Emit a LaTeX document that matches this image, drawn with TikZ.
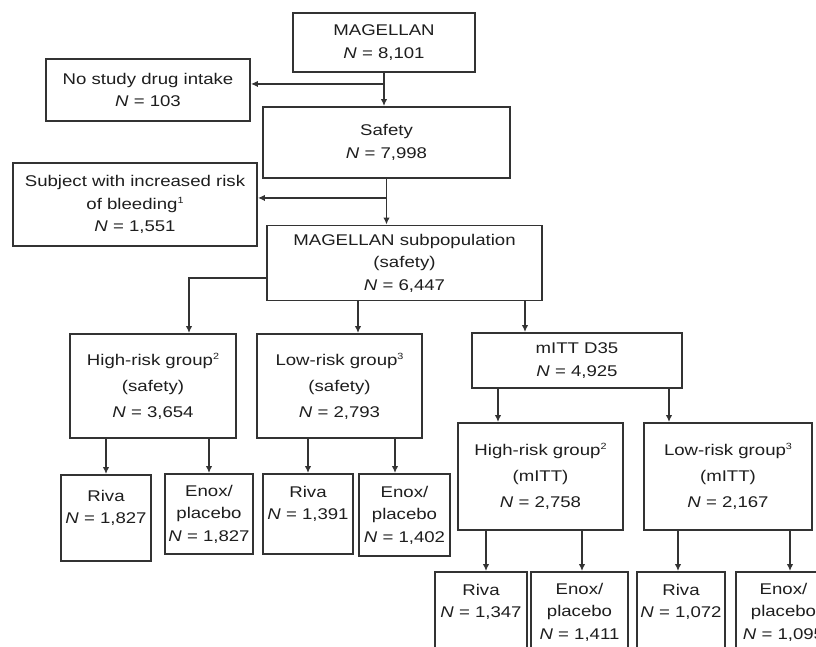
\documentclass[tikz,border=0pt]{standalone}
\usepackage{fontspec}
\setmainfont{Liberation Sans}[FakeStretch=1.2]
\usetikzlibrary{arrows.meta, calc}
\definecolor{edge}{HTML}{333333}
\definecolor{ink}{HTML}{1E1E1E}
\newcommand{\fnmark}[1]{\raisebox{6pt}{\fontsize{9}{9}\selectfont #1}}

\begin{document}
\begin{tikzpicture}[x=1pt, y=-1pt,
	box/.style={draw=edge, line width=1.9pt, fill=white, inner sep=0pt, align=center, text=ink, font=\fontsize{15.5}{22.5}\selectfont},
	grp/.style={box, font=\fontsize{15.5}{26}\selectfont},
	arr/.style={draw=edge, line width=1.7pt, -{Latex[length=7pt, width=6.5pt]}}]
		% \draw[help lines, step=50] (0,0) grid (816,647);
		\useasboundingbox (0,0) rectangle (816,647);
		\clip (0,0) rectangle (816,647);

		\node (mag) at (384,42.5) [box, minimum width=182pt, minimum height=59pt] {MAGELLAN\\ \textit{N} = 8,101};
		\node (nodrug) at (148,90) [box, minimum width=204pt, minimum height=62pt] {No study drug intake\\ \textit{N} = 103};
		\node (safety) at (386.5,142.5) [box, minimum width=247pt, minimum height=71pt] {Safety\\ \textit{N} = 7,998};
		\node (bleed) at (135,204.5) [box, minimum width=244pt, minimum height=83pt] {Subject with increased risk\\ of bleeding\fnmark{1}\\ \textit{N} = 1,551};
		\node (subpop) at (404.5,263) [box, minimum width=275pt, minimum height=75pt] {MAGELLAN subpopulation\\ (safety)\\ \textit{N} = 6,447};

		\node (hisafe) at (153,386) [grp, minimum width=166pt, minimum height=104pt] {High-risk group\fnmark{2}\\ (safety)\\ \textit{N} = 3,654};
		\node (losafe) at (339.5,386) [grp, minimum width=165pt, minimum height=104pt] {Low-risk group\fnmark{3}\\ (safety)\\ \textit{N} = 2,793};
		\node (mitt) at (577,360.5) [box, minimum width=210pt, minimum height=55pt] {mITT D35\\ \textit{N} = 4,925};
		\node (himitt) at (540.5,476.5) [grp, minimum width=165pt, minimum height=107pt] {High-risk group\fnmark{2}\\ (mITT)\\ \textit{N} = 2,758};
		\node (lomitt) at (728,476.5) [grp, minimum width=168pt, minimum height=107pt] {Low-risk group\fnmark{3}\\ (mITT)\\ \textit{N} = 2,167};

		\node (riva1) at (106,518) [box, minimum width=90pt, minimum height=86pt] {Riva\\ \textit{N} = 1,827\\ \mbox{}};
		\node (enox1) at (209,514) [box, minimum width=88pt, minimum height=80pt] {Enox/\\ placebo\\ \textit{N} = 1,827};
		\node (riva2) at (308,514) [box, minimum width=90pt, minimum height=80pt] {Riva\\ \textit{N} = 1,391\\ \mbox{}};
		\node (enox2) at (404.5,515) [box, minimum width=91pt, minimum height=82pt] {Enox/\\ placebo\\ \textit{N} = 1,402};
		\node (riva3) at (481,612) [box, minimum width=92pt, minimum height=80pt] {Riva\\ \textit{N} = 1,347\\ \mbox{}};
		\node (enox3) at (579.5,612) [box, minimum width=97pt, minimum height=80pt] {Enox/\\ placebo\\ \textit{N} = 1,411};
		\node (riva4) at (681,612) [box, minimum width=88pt, minimum height=80pt] {Riva\\ \textit{N} = 1,072\\ \mbox{}};
		\node (enox4) at (783.5,612) [box, minimum width=95pt, minimum height=80pt] {Enox/\\ placebo\\ \textit{N} = 1,095};

		\path (mag.south) ++(0,11) coordinate (j1);
		\path (safety.south) ++(0,19) coordinate (j2);
		\draw[arr] (mag.south) -- (mag.south |- safety.north);
		\draw[arr] (j1) -- (j1 -| nodrug.east);
		\draw[arr] (safety.south) -- (safety.south |- subpop.north);
		\draw[arr] (j2) -- (j2 -| bleed.east);
		\draw[arr] ($(subpop.west)+(0,15)$) -| ($(hisafe.north)+(36,0)$);

		\foreach \src/\dst/\dx in {subpop/losafe/18.5, subpop/mitt/-52, mitt/himitt/-42.5, mitt/lomitt/-59,
			hisafe/riva1/0, hisafe/enox1/0, losafe/riva2/0, losafe/enox2/-9.5,
			himitt/riva3/5, himitt/enox3/2.5, lomitt/riva4/-3, lomitt/enox4/6.5}
			\draw[arr] ($(\dst.north |- \src.south)+(\dx,0)$) -- ($(\dst.north)+(\dx,0)$);
	\end{tikzpicture}
\end{document}
